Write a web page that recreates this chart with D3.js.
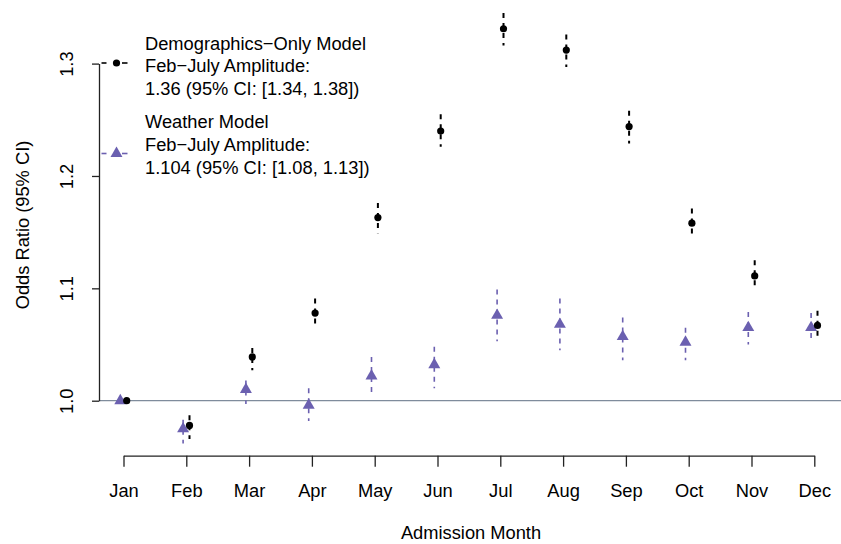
<!DOCTYPE html>
<html>
<head>
<meta charset="utf-8">
<script src="https://cdn.jsdelivr.net/npm/d3@7"></script>
<style>
  body { margin: 0; background: #fff; }
  svg text { font-family: "Liberation Sans", Arial, Helvetica, sans-serif; fill: #000; }
</style>
</head>
<body>
<svg id="chart"></svg>
<script>
// data
const months = ["Jan", "Feb", "Mar", "Apr", "May", "Jun", "Jul", "Aug", "Sep", "Oct", "Nov", "Dec"];

const demoOR = [1.000, 0.978, 1.039, 1.078, 1.163, 1.240, 1.331, 1.312, 1.244, 1.158, 1.111, 1.067];
const demoLo = [1.000, 0.966, 1.027, 1.065, 1.149, 1.226, 1.316, 1.297, 1.229, 1.146, 1.100, 1.055];
const demoHi = [1.000, 0.987, 1.047, 1.091, 1.176, 1.255, 1.345, 1.326, 1.258, 1.171, 1.125, 1.080];

const weatherOR = [1.000, 0.975, 1.010, 0.996, 1.022, 1.032, 1.076, 1.068, 1.057, 1.052, 1.065, 1.065];
const weatherLo = [1.000, 0.962, 0.997, 0.982, 1.004, 1.011, 1.053, 1.045, 1.036, 1.036, 1.050, 1.052];
const weatherHi = [1.000, 0.983, 1.018, 1.011, 1.039, 1.048, 1.099, 1.091, 1.074, 1.065, 1.079, 1.078];

const yTicks = [1.0, 1.1, 1.2, 1.3];

const legendDemo = ["Demographics\u2212Only Model", "Feb\u2212July Amplitude:", "1.36 (95% CI: [1.34, 1.38])"];
const legendWeather = ["Weather Model", "Feb\u2212July Amplitude:", "1.104 (95% CI: [1.08, 1.13])"];

const W = 841, H = 544;
const purple = "#6b60b0";
const fontSize = 18.3;

const svg = d3.select("#chart").attr("width", W).attr("height", H);
svg.append("rect").attr("width", W).attr("height", H).attr("fill", "#fff");

// scales
const x = d3.scaleLinear().domain([0, 11]).range([123.5, 814.3]);
const y = d3.scaleLinear().domain([1.0, 1.3]).range([400.7, 63.6]);
const plotLeft = 99, plotRight = 841;
const off = 3.2;

// reference line at 1
svg.append("line")
    .attr("x1", plotLeft).attr("x2", plotRight)
    .attr("y1", y(1)).attr("y2", y(1))
    .attr("stroke", "#7f8c9c").attr("stroke-width", 1.3);

// y axis
const yAxis = svg.append("g")
    .attr("transform", "translate(" + plotLeft + ",0)")
    .call(d3.axisLeft(y).tickValues(yTicks).tickFormat(d3.format(".1f")).tickSize(7).tickSizeOuter(0));
yAxis.selectAll("path, line").attr("stroke", "#222").attr("stroke-width", 1.3);
yAxis.selectAll("text")
    .attr("transform", "rotate(-90)")
    .attr("x", 0).attr("y", -26).attr("dy", 0)
    .attr("text-anchor", "middle")
    .style("font-size", fontSize + "px");

// x axis
const xAxis = svg.append("g")
    .attr("transform", "translate(0,455.7)")
    .call(d3.axisBottom(x).tickValues(d3.range(12)).tickFormat(i => months[i]).tickSize(11).tickSizeOuter(0).tickPadding(17));
xAxis.selectAll("path, line").attr("stroke", "#222").attr("stroke-width", 1.3);
xAxis.selectAll("text").style("font-size", fontSize + "px");
svg.selectAll(".domain").attr("fill", "none");

// axis titles
svg.append("text")
    .attr("transform", "translate(29,225) rotate(-90)")
    .attr("text-anchor", "middle")
    .style("font-size", fontSize + "px")
    .text("Odds Ratio (95% CI)");
svg.append("text")
    .attr("x", 471).attr("y", 539)
    .attr("text-anchor", "middle")
    .style("font-size", fontSize + "px")
    .text("Admission Month");

const idx = d3.range(months.length);
const tri = d3.symbol().type(d3.symbolTriangle).size(62);

// weather model: CI bars and triangles
svg.append("g").selectAll("line")
    .data(idx.filter(i => weatherHi[i] > weatherLo[i]))
    .enter().append("line")
    .attr("x1", i => x(i) - off).attr("x2", i => x(i) - off)
    .attr("y1", i => y(weatherHi[i])).attr("y2", i => y(weatherLo[i]))
    .attr("stroke", purple).attr("stroke-width", 1.6)
    .attr("stroke-dasharray", "5,5");
svg.append("g").selectAll("path")
    .data(idx)
    .enter().append("path")
    .attr("d", tri)
    .attr("transform", i => "translate(" + (x(i) - off) + "," + y(weatherOR[i]) + ")")
    .attr("fill", purple);

// demographics-only model: CI bars and circles
svg.append("g").selectAll("line")
    .data(idx.filter(i => demoHi[i] > demoLo[i]))
    .enter().append("line")
    .attr("x1", i => x(i) + off).attr("x2", i => x(i) + off)
    .attr("y1", i => y(demoHi[i])).attr("y2", i => y(demoLo[i]))
    .attr("stroke", "#000").attr("stroke-width", 2)
    .attr("stroke-dasharray", "5,5");
svg.append("g").selectAll("circle")
    .data(idx)
    .enter().append("circle")
    .attr("cx", i => x(i) + off).attr("cy", i => y(demoOR[i]))
    .attr("r", 3.6).attr("fill", "#000");

// legend: dashed key line (two dashes either side of the symbol) + text
const legend = svg.append("g");
function legendEntry(ly, color, symbol, lines, firstBaseline) {
    const key = legend.append("g");
    key.append("line")
        .attr("x1", 101.5).attr("x2", 106.5).attr("y1", ly).attr("y2", ly)
        .attr("stroke", color).attr("stroke-width", 1.6);
    key.append("line")
        .attr("x1", 122).attr("x2", 127.5).attr("y1", ly).attr("y2", ly)
        .attr("stroke", color).attr("stroke-width", 1.6);
    if (symbol === "circle") {
        key.append("circle").attr("cx", 116.5).attr("cy", ly).attr("r", 3.6).attr("fill", color);
    } else {
        key.append("path").attr("d", tri).attr("transform", "translate(116.5," + ly + ")").attr("fill", color);
    }
    legend.append("g").selectAll("text").data(lines).enter().append("text")
        .attr("x", 145).attr("y", (d, i) => firstBaseline + i * 22.8)
        .style("font-size", fontSize + "px")
        .text(d => d);
}
legendEntry(63, "#000", "circle", legendDemo, 49.5);
legendEntry(153.5, purple, "triangle", legendWeather, 128.2);
</script>
</body>
</html>
